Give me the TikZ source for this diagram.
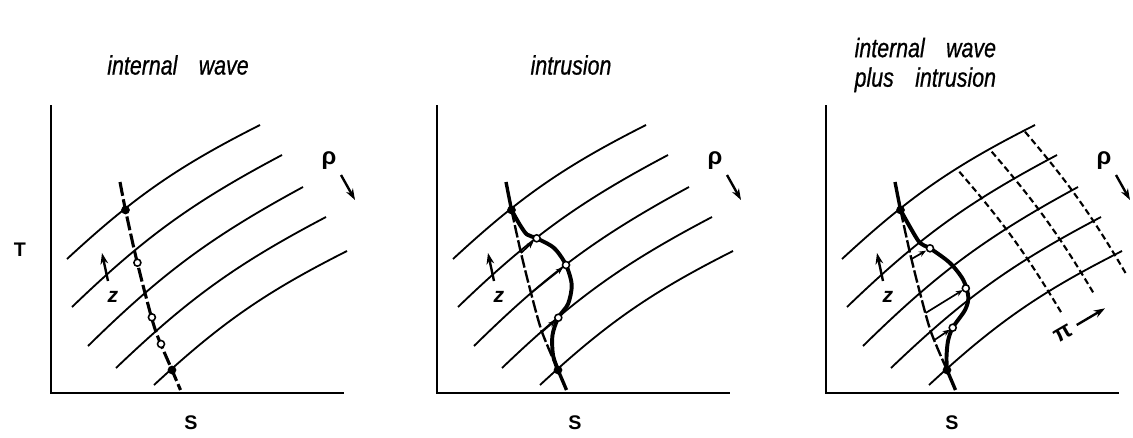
\documentclass[tikz,border=0pt]{standalone}
\usepackage{fontspec}
\setmainfont{Liberation Sans}
\newfontfamily\titlefont{Liberation Sans Italic}[FakeBold=0.8]
\usetikzlibrary{arrows.meta}

\tikzset{
    axisline/.style={line width=2.1pt, line join=miter},
    isopycnal/.style={line width=1.3pt},
    profile/.style={line width=2.4pt},
    profiledash/.style={line width=2.2pt, dash pattern=on 10pt off 2.5pt},
    midprofile/.style={line width=1.7pt, dash pattern=on 9pt off 2pt},
    intrusion/.style={line width=2.8pt, line join=round, line cap=round},
    pidash/.style={line width=1.5pt, dash pattern=on 4.5pt off 2.5pt},
    signarrow/.style={-{Stealth[length=8pt,width=5.5pt]}, line width=1.7pt},
    moveline/.style={-{Stealth[length=5pt,width=4pt]}, line width=1.2pt},
    fulldot/.style={circle, fill=black, inner sep=0pt, minimum size=6.2pt},
    opendot/.style={circle, draw=black, fill=white, line width=1.1pt, inner sep=0pt, minimum size=5pt},
    titletext/.style={font=\fontsize{19}{21}\selectfont\titlefont, xscale=0.8},
    axislabel/.style={font=\fontsize{14}{16}\selectfont\bfseries},
    symlabel/.style={font=\fontsize{17}{19}\selectfont\bfseries},
}

% axes, isopycnals, z and rho markers of one T-S panel
\newcommand{\tsframe}[1]{%
    \draw[axisline] (0,288) -- (0,0) -- (293,0);
    \draw[isopycnal] (16,134) to[bend left=8] (209,268);
    \draw[isopycnal] (21,86) to[bend left=8] (231,238);
    \draw[isopycnal] (37,47) to[bend left=8] (252,206);
    \draw[isopycnal] (65,25) to[bend left=8] (275,176);
    \draw[isopycnal] (103,8) to[bend left=8] (296,142);
    \draw[signarrow] (57,112) -- (51,140);
    \node[symlabel, font=\fontsize{15}{17}\selectfont\bfseries\itshape] (z#1) at (62,96) {z};
    \node[symlabel] (rho#1) at (278,232) {ρ};
    \draw[signarrow] (290,218) -- (304,193);
}

\begin{document}
\begin{tikzpicture}[x=0.025cm, y=0.025cm, >=Stealth]

\useasboundingbox (0,0) rectangle (1133,437);

% Titols

\node[titletext] (title1) at (178,372) {internal\quad wave};
\node[titletext] (title2) at (571,372) {intrusion};
\node[titletext, align=right, anchor=east] (title3) at (1000,372)
    {internal\quad wave\\plus\quad intrusion};

\node[axislabel] (tlab) at (20,187) {T};


% Ona interna

\begin{scope}[shift={(51,44)}]
\tsframe{1}

\draw[
    profiledash
] plot[smooth] coordinates {(69,211) (74.5,183) (84,140) (94,100) (105,61) (121,23) (129.5,3)};

\node[fulldot] (top1) at (74.5,183) {};
\node[fulldot] (bot1) at (121,23) {};
\node[opendot] (w1a) at (86.4,130.3) {};
\node[opendot] (w1b) at (100.9,75.7) {};
\node[opendot] (w1c) at (110,49) {};

\node[axislabel] (s1) at (140,-30) {S};
\end{scope}


% Intrusio

\begin{scope}[shift={(437,44)}]
\tsframe{2}

\draw[profile] (69,211) -- (74.5,183);
\draw[
    midprofile
] plot[smooth] coordinates {(74.5,183) (84,140) (94,100) (105,61) (121,23)};
\draw[profile] (121,23) -- (129.5,3);

\draw[
    intrusion
] plot[smooth] coordinates {(74.5,183) (83,168) (90,158.5) (99.7,154.7) (117,145)
    (129,128) (134.7,108) (131,89) (121.3,75.3) (115.5,58) (116,38) (121,23)};

\draw[moveline] (84,140) -- (96.5,151.6);
\draw[moveline] (94,100) -- (125.9,125.5);
\draw[moveline] (105,61) -- (118.2,72.6);

\node[fulldot] (top2) at (74.5,183) {};
\node[fulldot] (bot2) at (121,23) {};
\node[opendot] (i2a) at (99.7,154.7) {};
\node[opendot] (i2b) at (129,128) {};
\node[opendot] (i2c) at (121.3,75.3) {};

\node[axislabel] (s2) at (138,-30) {S};
\end{scope}


% Ona interna mes intrusio

\begin{scope}[shift={(826,44)}]
\tsframe{3}

\draw[pidash] (133.3,221.3) to[bend left=5] (235.7,79.7);
\draw[pidash] (165.7,241.3) to[bend left=5] (267.3,100.3);
\draw[pidash] (199,261.3) to[bend left=5] (300.7,118);

\node[symlabel, rotate=30] (pi3) at (237.3,59.7) {π};
\draw[signarrow] (250.7,68) -- (279,84.7);

\draw[profile] (69,211) -- (74.5,183);
\draw[
    midprofile
] plot[smooth] coordinates {(74.5,183) (84,140) (94,100) (105,61) (121,23)};
\draw[profile] (121,23) -- (129.5,3);

\draw[
    intrusion
] plot[smooth] coordinates {(74.5,183) (84,166) (94,150) (104,144.7) (124,130)
    (137.3,113) (142.3,96) (139,83) (126.7,65.3) (122,52) (120.5,36) (121,23)};

\draw[moveline] (85.5,134) -- (100,142.3);
\draw[moveline] (99.6,80) -- (136.8,102.9);
\draw[moveline] (108.4,53) -- (123.8,63.3);

\node[fulldot] (top3) at (74.5,183) {};
\node[fulldot] (bot3) at (121,23) {};
\node[opendot] (c3a) at (104,144.7) {};
\node[opendot] (c3b) at (139.8,104.7) {};
\node[opendot] (c3c) at (126.7,65.3) {};

\node[axislabel] (s3) at (126,-30) {S};
\end{scope}

\end{tikzpicture}
\end{document}
